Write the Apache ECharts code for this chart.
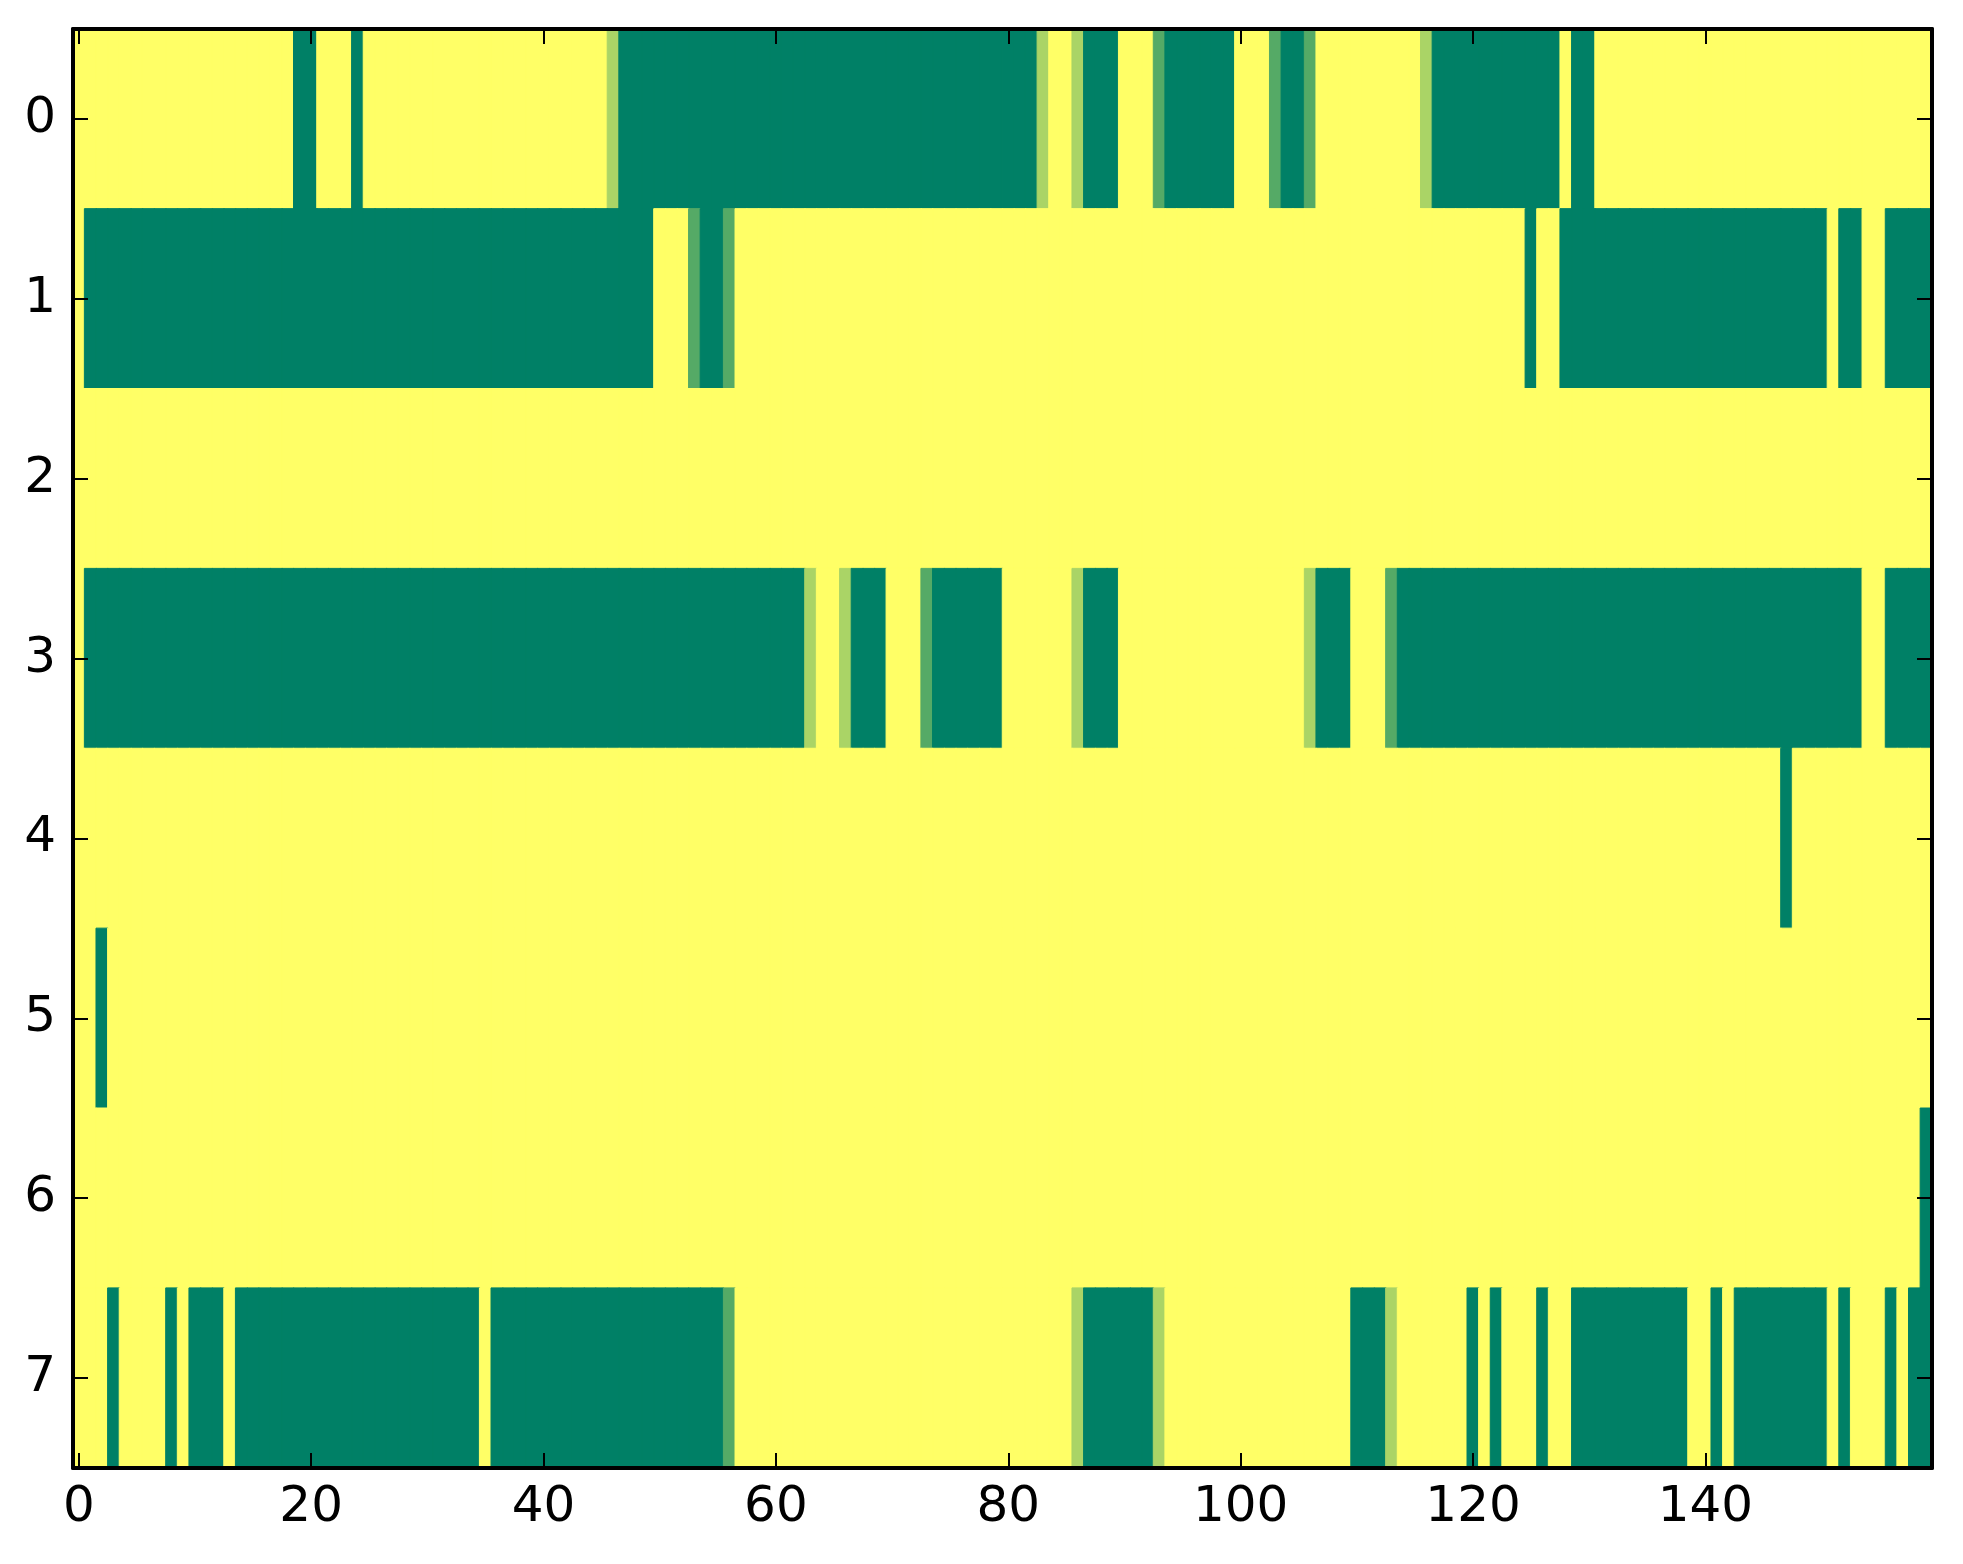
<!DOCTYPE html>
<html>
<head>
<meta charset="utf-8">
<script src="https://cdn.jsdelivr.net/npm/echarts@6/dist/echarts.min.js"></script>
<style>
html,body{margin:0;padding:0;background:#fff;}
#chart{width:1963px;height:1564px;}
</style>
</head>
<body>
<div id="chart"></div>
<script>
// Levels per cell: 0 = dark green, 1 = one third, 2 = two thirds, 3 = yellow (summer colormap)
var xTickLabels = ['0','20','40','60','80','100','120','140'];
var yCategories = ['0','1','2','3','4','5','6','7'];

var row0 = [
  3,3,3,3,3,3,3,3,3,3, 3,3,3,3,3,3,3,3,3,0,
  0,3,3,3,0,3,3,3,3,3, 3,3,3,3,3,3,3,3,3,3,
  3,3,3,3,3,3,2,0,0,0, 0,0,0,0,0,0,0,0,0,0,
  0,0,0,0,0,0,0,0,0,0, 0,0,0,0,0,0,0,0,0,0,
  0,0,0,2,3,3,2,0,0,0, 3,3,3,1,0,0,0,0,0,0,
  3,3,3,1,0,0,1,3,3,3, 3,3,3,3,3,3,2,0,0,0,
  0,0,0,0,0,0,0,0,3,0, 0,3,3,3,3,3,3,3,3,3,
  3,3,3,3,3,3,3,3,3,3, 3,3,3,3,3,3,3,3,3,3
];
var row1 = [
  3,0,0,0,0,0,0,0,0,0, 0,0,0,0,0,0,0,0,0,0,
  0,0,0,0,0,0,0,0,0,0, 0,0,0,0,0,0,0,0,0,0,
  0,0,0,0,0,0,0,0,0,0, 3,3,3,1,0,0,1,3,3,3,
  3,3,3,3,3,3,3,3,3,3, 3,3,3,3,3,3,3,3,3,3,
  3,3,3,3,3,3,3,3,3,3, 3,3,3,3,3,3,3,3,3,3,
  3,3,3,3,3,3,3,3,3,3, 3,3,3,3,3,3,3,3,3,3,
  3,3,3,3,3,0,3,3,0,0, 0,0,0,0,0,0,0,0,0,0,
  0,0,0,0,0,0,0,0,0,0, 0,3,0,0,3,3,0,0,0,0
];
var row2 = [
  3,3,3,3,3,3,3,3,3,3, 3,3,3,3,3,3,3,3,3,3,
  3,3,3,3,3,3,3,3,3,3, 3,3,3,3,3,3,3,3,3,3,
  3,3,3,3,3,3,3,3,3,3, 3,3,3,3,3,3,3,3,3,3,
  3,3,3,3,3,3,3,3,3,3, 3,3,3,3,3,3,3,3,3,3,
  3,3,3,3,3,3,3,3,3,3, 3,3,3,3,3,3,3,3,3,3,
  3,3,3,3,3,3,3,3,3,3, 3,3,3,3,3,3,3,3,3,3,
  3,3,3,3,3,3,3,3,3,3, 3,3,3,3,3,3,3,3,3,3,
  3,3,3,3,3,3,3,3,3,3, 3,3,3,3,3,3,3,3,3,3
];
var row3 = [
  3,0,0,0,0,0,0,0,0,0, 0,0,0,0,0,0,0,0,0,0,
  0,0,0,0,0,0,0,0,0,0, 0,0,0,0,0,0,0,0,0,0,
  0,0,0,0,0,0,0,0,0,0, 0,0,0,0,0,0,0,0,0,0,
  0,0,0,2,3,3,2,0,0,0, 3,3,3,1,0,0,0,0,0,0,
  3,3,3,3,3,3,2,0,0,0, 3,3,3,3,3,3,3,3,3,3,
  3,3,3,3,3,3,2,0,0,0, 3,3,3,1,0,0,0,0,0,0,
  0,0,0,0,0,0,0,0,0,0, 0,0,0,0,0,0,0,0,0,0,
  0,0,0,0,0,0,0,0,0,0, 0,0,0,0,3,3,0,0,0,0
];
var row4 = [
  3,3,3,3,3,3,3,3,3,3, 3,3,3,3,3,3,3,3,3,3,
  3,3,3,3,3,3,3,3,3,3, 3,3,3,3,3,3,3,3,3,3,
  3,3,3,3,3,3,3,3,3,3, 3,3,3,3,3,3,3,3,3,3,
  3,3,3,3,3,3,3,3,3,3, 3,3,3,3,3,3,3,3,3,3,
  3,3,3,3,3,3,3,3,3,3, 3,3,3,3,3,3,3,3,3,3,
  3,3,3,3,3,3,3,3,3,3, 3,3,3,3,3,3,3,3,3,3,
  3,3,3,3,3,3,3,3,3,3, 3,3,3,3,3,3,3,3,3,3,
  3,3,3,3,3,3,3,0,3,3, 3,3,3,3,3,3,3,3,3,3
];
var row5 = [
  3,3,0,3,3,3,3,3,3,3, 3,3,3,3,3,3,3,3,3,3,
  3,3,3,3,3,3,3,3,3,3, 3,3,3,3,3,3,3,3,3,3,
  3,3,3,3,3,3,3,3,3,3, 3,3,3,3,3,3,3,3,3,3,
  3,3,3,3,3,3,3,3,3,3, 3,3,3,3,3,3,3,3,3,3,
  3,3,3,3,3,3,3,3,3,3, 3,3,3,3,3,3,3,3,3,3,
  3,3,3,3,3,3,3,3,3,3, 3,3,3,3,3,3,3,3,3,3,
  3,3,3,3,3,3,3,3,3,3, 3,3,3,3,3,3,3,3,3,3,
  3,3,3,3,3,3,3,3,3,3, 3,3,3,3,3,3,3,3,3,3
];
var row6 = [
  3,3,3,3,3,3,3,3,3,3, 3,3,3,3,3,3,3,3,3,3,
  3,3,3,3,3,3,3,3,3,3, 3,3,3,3,3,3,3,3,3,3,
  3,3,3,3,3,3,3,3,3,3, 3,3,3,3,3,3,3,3,3,3,
  3,3,3,3,3,3,3,3,3,3, 3,3,3,3,3,3,3,3,3,3,
  3,3,3,3,3,3,3,3,3,3, 3,3,3,3,3,3,3,3,3,3,
  3,3,3,3,3,3,3,3,3,3, 3,3,3,3,3,3,3,3,3,3,
  3,3,3,3,3,3,3,3,3,3, 3,3,3,3,3,3,3,3,3,3,
  3,3,3,3,3,3,3,3,3,3, 3,3,3,3,3,3,3,3,3,0
];
var row7 = [
  3,3,3,0,3,3,3,3,0,3, 0,0,0,3,0,0,0,0,0,0,
  0,0,0,0,0,0,0,0,0,0, 0,0,0,0,0,3,0,0,0,0,
  0,0,0,0,0,0,0,0,0,0, 0,0,0,0,0,0,1,3,3,3,
  3,3,3,3,3,3,3,3,3,3, 3,3,3,3,3,3,3,3,3,3,
  3,3,3,3,3,3,2,0,0,0, 0,0,0,2,3,3,3,3,3,3,
  3,3,3,3,3,3,3,3,3,3, 0,0,0,2,3,3,3,3,3,3,
  0,3,0,3,3,3,0,3,3,0, 0,0,0,0,0,0,0,0,0,3,
  3,0,3,0,0,0,0,0,0,0, 0,3,0,3,3,3,0,3,0,0
];

var rows = [row0,row1,row2,row3,row4,row5,row6,row7];
var levelColors = ['#008066', '#55aa66', '#aad466', '#ffff66'];
var nCols = row0.length;
var xCategories = [];
for (var i = 0; i < nCols; i++) xCategories.push(String(i));

var data = [];
rows.forEach(function (row, r) {
  row.forEach(function (v, c) {
    var col = levelColors[v];
    data.push({value: [c, r, v], itemStyle: {color: col, borderColor: col, borderWidth: 1}});
  });
});

var FONT = 'DejaVu Sans';
var tickFn = function (idx) { return xTickLabels.indexOf(String(idx)) >= 0; };

var chart = echarts.init(document.getElementById('chart'), null, {renderer: 'canvas'});
chart.setOption({
  animation: false,
  backgroundColor: '#ffffff',
  grid: {left: 73, right: 31, top: 29, bottom: 96, containLabel: false},
  xAxis: [{
    type: 'category', data: xCategories, position: 'bottom', z: 10,
    axisLine: {show: true, lineStyle: {color: '#000', width: 4}},
    axisTick: {show: true, inside: true, length: 15, alignWithLabel: true, interval: tickFn, lineStyle: {color: '#000', width: 2}},
    axisLabel: {show: true, interval: tickFn, color: '#000', fontFamily: FONT, fontSize: 50, margin: 15},
    splitLine: {show: false}
  }, {
    type: 'category', data: xCategories, position: 'top', z: 10,
    axisLine: {show: true, lineStyle: {color: '#000', width: 4}},
    axisTick: {show: true, inside: true, length: 15, alignWithLabel: true, interval: tickFn, lineStyle: {color: '#000', width: 2}},
    axisLabel: {show: false},
    splitLine: {show: false}
  }],
  yAxis: [{
    type: 'category', data: yCategories, inverse: true, position: 'left', z: 10,
    axisLine: {show: true, lineStyle: {color: '#000', width: 4}},
    axisTick: {show: true, inside: true, length: 15, alignWithLabel: true, lineStyle: {color: '#000', width: 2}},
    axisLabel: {show: true, color: '#000', fontFamily: FONT, fontSize: 50, margin: 17},
    splitLine: {show: false}
  }, {
    type: 'category', data: yCategories, inverse: true, position: 'right', z: 10,
    axisLine: {show: true, lineStyle: {color: '#000', width: 4}},
    axisTick: {show: true, inside: true, length: 15, alignWithLabel: true, lineStyle: {color: '#000', width: 2}},
    axisLabel: {show: false},
    splitLine: {show: false}
  }],
  series: [{
    type: 'heatmap', xAxisIndex: 0, yAxisIndex: 0, data: data,
    emphasis: {disabled: true},
    progressive: 0
  }]
});
</script>
</body>
</html>
